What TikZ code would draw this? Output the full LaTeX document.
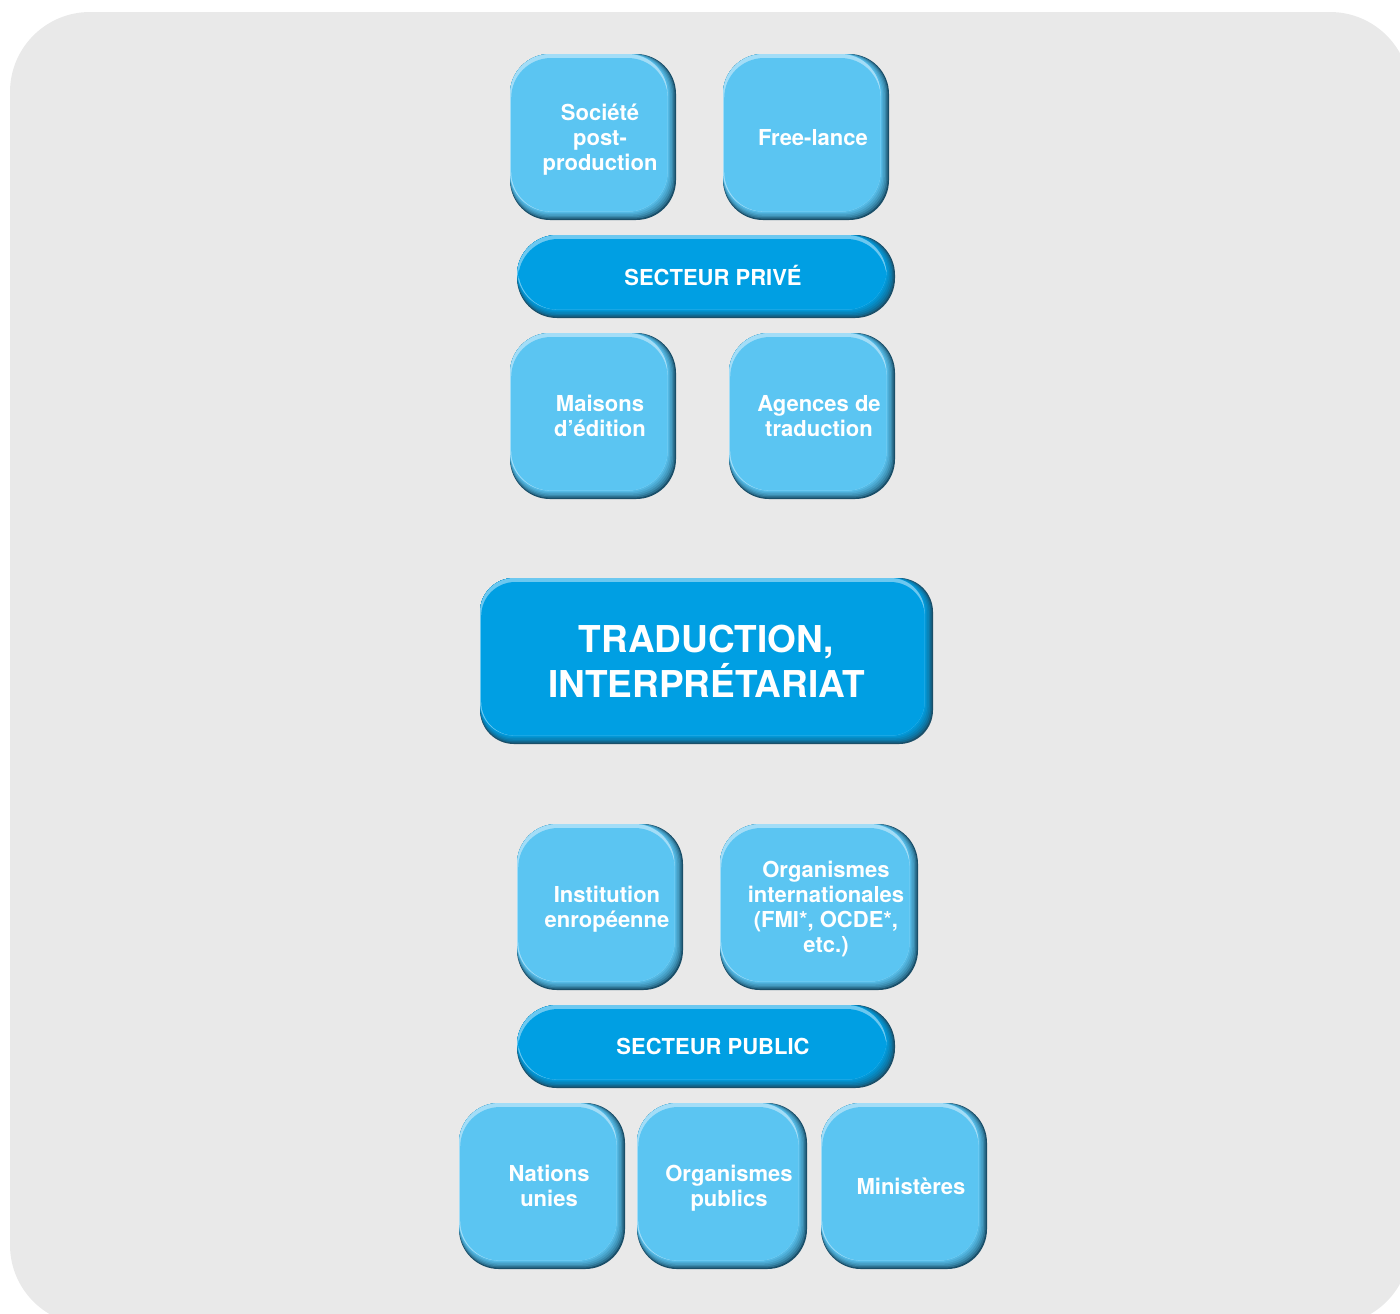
\documentclass[tikz,border=0pt]{standalone}
\usepackage{fontspec}
\newfontfamily\heros{TeX Gyre Heros}
\definecolor{bggray}{HTML}{E9E9E9}
\definecolor{tilemain}{HTML}{5BC5F2}
\definecolor{tiletop}{HTML}{A3DDF7}
\definecolor{barmain}{HTML}{009FE3}
\definecolor{bartop}{HTML}{6CC8F0}
\definecolor{shadedark}{HTML}{1A4F69}
\newcommand{\tilefont}{\heros\bfseries\fontsize{11}{12.5}\selectfont}
\newcommand{\bigfont}{\heros\bfseries\fontsize{18.5}{22.5}\selectfont}
\newcommand{\lbl}[1]{\hspace*{7pt}\raisebox{-1.5pt}[\height][\depth]{\begin{tabular}{@{}c@{}}#1\end{tabular}}}
\tikzset{
  box/.style 2 args={rectangle, rounded corners=#2, inner sep=0pt, align=center, text=white, fill=shadedark,
    path picture={
      \foreach \s/\m in {0.7/30,1.4/50,2.1/65,2.8/78,3.5/90,4.2/100}
        \fill[#1main!\m!shadedark, rounded corners=#2] (path picture bounding box.north west) rectangle
          ([xshift=-\s pt,yshift=\s pt]path picture bounding box.south east);
      \fill[#1top, rounded corners=#2] (path picture bounding box.north west) rectangle
        ([xshift=-4.2pt,yshift=4.2pt]path picture bounding box.south east);
      \fill[#1main, rounded corners=#2] ([xshift=0.6pt,yshift=-2pt]path picture bounding box.north west) rectangle
        ([xshift=-4.2pt,yshift=4.2pt]path picture bounding box.south east);
    }},
  tile/.style={box={tile}{20pt}, minimum width=83pt, minimum height=83pt, font=\tilefont},
  widetile/.style={tile, minimum width=99pt},
  sector/.style={box={bar}{20pt}, minimum width=189pt, minimum height=41.5pt, font=\tilefont},
  centre/.style={box={bar}{17pt}, minimum width=226.5pt, minimum height=83pt, font=\bigfont}
}
\begin{document}
\begin{tikzpicture}[x=0.5pt,y=-0.5pt]
\useasboundingbox (0,0) rectangle (1400,1313);
\fill[bggray, rounded corners=40pt] (10,12) rectangle (1410,1325);

% secteur prive
\node[tile] (societe) at (593,137) {\lbl{Société\\post-\\production}};
\node[tile] (freelance) at (806,137) {\lbl{Free-lance}};
\node[sector] (prive) at (706,276.5) {\lbl{SECTEUR PRIVÉ}};
\node[tile] (maisons) at (593,416) {\lbl{Maisons\\d’édition}};
\node[tile] (agences) at (812,416) {\lbl{Agences de\\traduction}};

\node[centre] (traduction) at (706.5,661) {TRADUCTION,\\INTERPRÉTARIAT};

% secteur public
\node[tile] (institution) at (600,907) {\lbl{Institution\\enropéenne}};
\node[widetile] (orgint) at (819,907) {\lbl{Organismes\\internationales\\(FMI*, OCDE*,\\etc.)}};
\node[sector] (public) at (706,1046.5) {\lbl{SECTEUR PUBLIC}};
\node[tile] (nations) at (542,1186) {\lbl{Nations\\unies}};
\node[tile, minimum width=85pt] (orgpub) at (722,1186) {\lbl{Organismes\\publics}};
\node[tile] (ministeres) at (904,1186) {\lbl{Ministères}};

\end{tikzpicture}
\end{document}
